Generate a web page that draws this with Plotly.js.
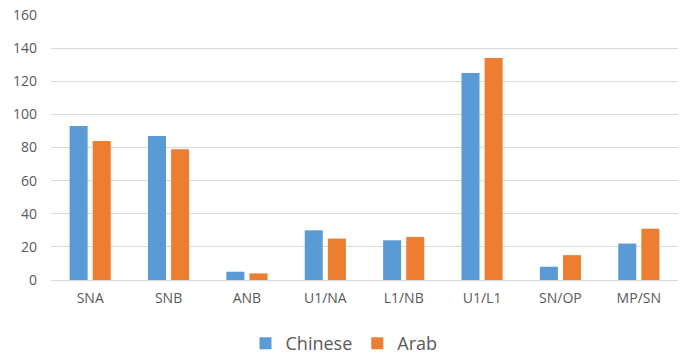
<!DOCTYPE html>
<html>
<head>
<meta charset="utf-8">
<script src="https://cdn.plot.ly/plotly-3.0.1.min.js"></script>
<style>
  html, body { margin: 0; padding: 0; background: #fff; }
  #plot { width: 688px; height: 362px; }
</style>
</head>
<body>
<div id="plot"></div>
<script>
// measurements
let categories = ["SNA", "SNB", "ANB", "U1/NA", "L1/NB", "U1/L1", "SN/OP", "MP/SN"];
let chineseValues = [93, 87, 5, 30, 24, 125, 8, 22];
let arabValues = [84, 79, 4, 25, 26, 134, 15, 31];

let trace1 = {
  x: categories,
  y: chineseValues,
  name: "Chinese",
  type: "bar",
  marker: { color: "#5B9BD5" },
  hoverinfo: "none"
};

let trace2 = {
  x: categories,
  y: arabValues,
  name: "Arab",
  type: "bar",
  marker: { color: "#ED7D31" },
  hoverinfo: "none"
};

let layout = {
  width: 688,
  height: 362,
  margin: { l: 51, r: 10, t: 15, b: 82 },
  paper_bgcolor: "#fff",
  plot_bgcolor: "#fff",
  font: { family: "Open Sans, Liberation Sans, sans-serif", color: "#595959", size: 14 },
  barmode: "group",
  bargap: 0.41,
  bargroupgap: 0.22,
  xaxis: {
    showgrid: false,
    showline: false,
    ticks: "",
    ticklabelstandoff: 8,
    tickfont: { size: 14, color: "#595959" }
  },
  yaxis: {
    range: [0, 160],
    dtick: 20,
    gridcolor: "#d9d9d9",
    gridwidth: 1,
    zeroline: true,
    zerolinecolor: "#d9d9d9",
    ticks: "",
    ticklabelstandoff: 13,
    tickfont: { size: 14, color: "#595959" }
  },
  showlegend: true,
  legend: {
    orientation: "h",
    xref: "container",
    yref: "container",
    x: 0.5,
    xanchor: "center",
    y: 0.0,
    yanchor: "bottom",
    font: { size: 18, color: "#595959" },
    itemwidth: 30
  }
};

Plotly.newPlot("plot", [trace1, trace2], layout, { displayModeBar: false, staticPlot: true });
</script>
</body>
</html>
